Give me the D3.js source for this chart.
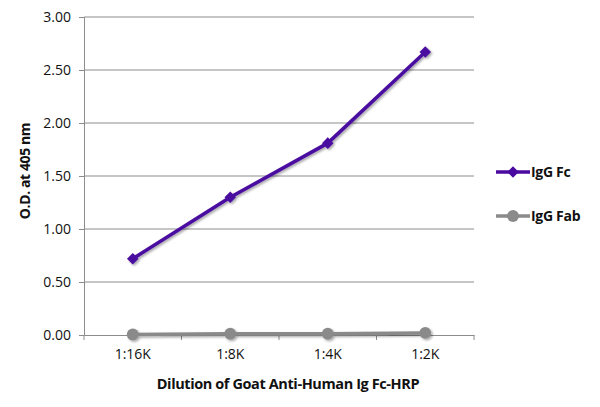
<!DOCTYPE html>
<html>
<head>
<meta charset="utf-8">
<script src="https://cdn.jsdelivr.net/npm/d3@7"></script>
<style>
  body { margin: 0; background: #fff; }
  text { font-family: "Open Sans", sans-serif; fill: #111; }
</style>
</head>
<body>
<div id="chart"></div>
<script>
// dilutions and values
const dilutions = ["1:16K", "1:8K", "1:4K", "1:2K"];
const iggFc = [0.72, 1.30, 1.81, 2.67];
const iggFab = [0.005, 0.012, 0.012, 0.02];
const yTicks = [0, 0.5, 1, 1.5, 2, 2.5, 3];

var width = 600, height = 407;
var margin = { top: 17, right: 126, bottom: 72, left: 84 };

const svg = d3.select("#chart").append("svg")
    .attr("width", width)
    .attr("height", height);

// soft shadow under the lines like the original
var defs = svg.append("defs");
var shadow = defs.append("filter").attr("id", "shadow")
    .attr("x", "-20%").attr("y", "-20%").attr("width", "140%").attr("height", "140%");
shadow.append("feDropShadow")
    .attr("dx", 1.5).attr("dy", 1.5).attr("stdDeviation", 1.2)
    .attr("flood-color", "#000").attr("flood-opacity", 0.35);

var x = d3.scaleBand()
    .domain(dilutions)
    .range([margin.left, width - margin.right]);

var y = d3.scaleLinear()
    .domain([0, 3])
    .range([height - margin.bottom, margin.top]);

// gridlines
svg.append("g")
    .selectAll("line")
    .data(yTicks.filter(d => d > 0))
    .enter()
    .append("line")
    .attr("x1", margin.left)
    .attr("x2", width - margin.right)
    .attr("y1", d => y(d))
    .attr("y2", d => y(d))
    .attr("stroke", "#8c8c8c")
    .attr("stroke-width", 1);

// y axis
var yAxis = svg.append("g")
    .attr("transform", "translate(" + margin.left + ",0)")
    .call(d3.axisLeft(y).tickValues(yTicks).tickFormat(d3.format(".2f")).tickSize(5).tickPadding(8));
yAxis.select(".domain").attr("stroke", "#8c8c8c");
yAxis.selectAll(".tick line").attr("stroke", "#8c8c8c");
yAxis.selectAll("text").style("font-size", "14px").attr("fill", "#111");

// x axis - ticks on band boundaries
var xAxis = svg.append("g")
    .attr("transform", "translate(0," + y(0) + ")")
    .call(d3.axisBottom(x).tickSize(0).tickPadding(14));
xAxis.select(".domain").attr("stroke", "#8c8c8c");
xAxis.selectAll("text").style("font-size", "14px").attr("fill", "#111");

var bounds = dilutions.map(d => x(d)).concat([x.range()[1]]);
xAxis.selectAll(".bound")
    .data(bounds)
    .enter()
    .append("line")
    .attr("class", "bound")
    .attr("x1", d => d).attr("x2", d => d)
    .attr("y1", 0).attr("y2", 5)
    .attr("stroke", "#8c8c8c");

// series
var series = [
    { name: "IgG Fc", values: iggFc, color: "#4a0aa0", marker: "diamond" },
    { name: "IgG Fab", values: iggFab, color: "#8a8a8a", marker: "circle" }
];

var line = d3.line()
    .x((d, i) => x(dilutions[i]) + x.bandwidth() / 2)
    .y(d => y(d));

var diamond = d3.symbol().type(d3.symbolDiamond2).size(85);
var circle = d3.symbol().type(d3.symbolCircle).size(110);

// draw Fab first so Fc stays on top
series.slice().reverse().forEach(s => {
    var g = svg.append("g").attr("filter", "url(#shadow)");
    g.append("path")
        .datum(s.values)
        .attr("d", line)
        .attr("fill", "none")
        .attr("stroke", s.color)
        .attr("stroke-width", 3.5)
        .attr("stroke-linejoin", "round");
    g.selectAll(".pt")
        .data(s.values)
        .enter()
        .append("path")
        .attr("class", "pt")
        .attr("transform", (d, i) => "translate(" + (x(dilutions[i]) + x.bandwidth() / 2) + "," + y(d) + ")")
        .attr("d", s.marker === "diamond" ? diamond : circle)
        .attr("fill", s.color);
});

// legend
var legend = svg.append("g")
    .selectAll("g")
    .data(series)
    .enter()
    .append("g")
    .attr("transform", (d, i) => "translate(496," + (172 + i * 44) + ")");
legend.append("line")
    .attr("x1", 0).attr("x2", 34)
    .attr("stroke", d => d.color)
    .attr("stroke-width", 3.5);
legend.append("path")
    .attr("transform", "translate(17,0)")
    .attr("d", d => d.marker === "diamond" ? diamond() : circle())
    .attr("fill", d => d.color);
legend.append("text")
    .attr("x", 35)
    .attr("dy", "0.35em")
    .style("font-size", "14px")
    .style("font-weight", "bold")
    .style("letter-spacing", "-0.3px")
    .text(d => d.name);

// axis titles
svg.append("text")
    .attr("transform", "translate(30,171) rotate(-90)")
    .attr("text-anchor", "middle")
    .style("font-size", "14px")
    .style("font-weight", "bold")
    .style("letter-spacing", "-0.4px")
    .text("O.D. at 405 nm");

svg.append("text")
    .attr("x", 288)
    .attr("y", 389)
    .attr("text-anchor", "middle")
    .style("font-size", "14.5px")
    .style("font-weight", "bold")
    .style("letter-spacing", "-0.4px")
    .text("Dilution of Goat Anti-Human Ig Fc-HRP");
</script>
</body>
</html>
